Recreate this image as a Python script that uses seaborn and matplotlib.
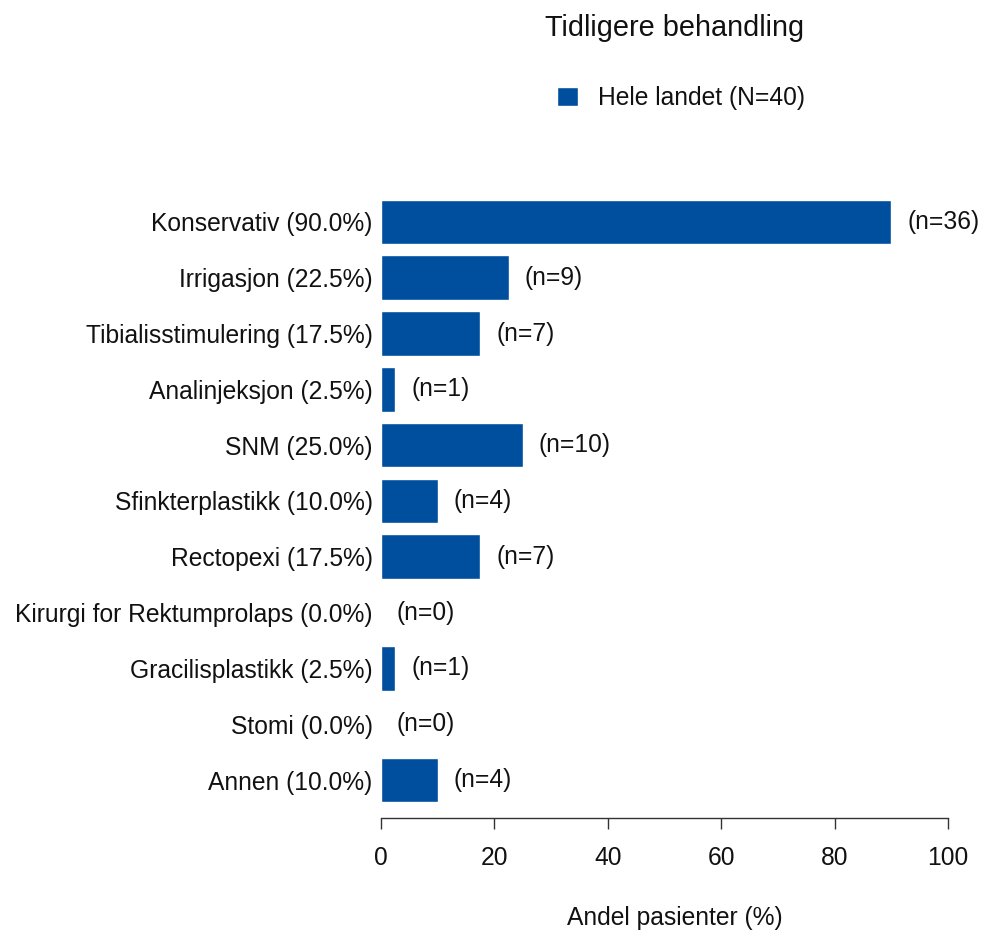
import matplotlib
matplotlib.use("Agg")
import matplotlib.pyplot as plt
import pandas as pd
import seaborn as sns

categories = [
    "Konservativ",
    "Irrigasjon",
    "Tibialisstimulering",
    "Analinjeksjon",
    "SNM",
    "Sfinkterplastikk",
    "Rectopexi",
    "Kirurgi for Rektumprolaps",
    "Gracilisplastikk",
    "Stomi",
    "Annen",
]
counts = [36, 9, 7, 1, 10, 4, 7, 0, 1, 0, 4]
shares = [90.0, 22.5, 17.5, 2.5, 25.0, 10.0, 17.5, 0.0, 2.5, 0.0, 10.0]
total_n = 40
x_ticks = [0, 20, 40, 60, 80, 100]

BAR_COLOR = "#004F9E"
FONT = ["Liberation Sans", "DejaVu Sans"]
FS = 17.7


def main() -> None:
    sns.set_style("white")
    plt.rcParams["font.family"] = FONT
    plt.rcParams["text.color"] = "#111111"
    plt.rcParams["xtick.color"] = "#111111"
    plt.rcParams["ytick.color"] = "#111111"

    df = pd.DataFrame(
        {
            "label": [f"{c} ({s:.1f}%)" for c, s in zip(categories, shares)],
            "share": shares,
            "n": counts,
        }
    )

    fig = plt.figure(figsize=(9.82, 9.33), dpi=100)
    ax = fig.add_axes([0.388, 0.1233, 0.5774, 0.6747])

    sns.barplot(
        data=df,
        x="share",
        y="label",
        orient="h",
        color=BAR_COLOR,
        saturation=1,
        width=0.8,
        label=f"Hele landet (N={total_n})",
        ax=ax,
    )

    for i, row in df.iterrows():
        ax.annotate(
            f"(n={row['n']})",
            xy=(row["share"], i),
            xytext=(11.5, 0),
            textcoords="offset points",
            va="center",
            ha="left",
            fontsize=FS,
        )

    ax.set_xlim(0, 100)
    ax.set_ylim(10.68, -0.6)
    ax.set_xticks(x_ticks)
    ax.set_xticklabels([str(t) for t in x_ticks], fontsize=FS)
    ax.tick_params(axis="y", labelsize=FS, length=0, pad=6)
    ax.tick_params(axis="x", length=8, width=1, color="#333333", pad=12, bottom=True)
    ax.set_xlabel("")
    ax.set_ylabel("")

    for side in ["top", "right", "left"]:
        ax.spines[side].set_visible(False)
    ax.spines["bottom"].set_color("#333333")
    ax.spines["bottom"].set_linewidth(1)

    handles, labels = ax.get_legend_handles_labels()
    if ax.get_legend() is not None:
        ax.get_legend().remove()
    fig.legend(
        handles[:1],
        labels[:1],
        loc="center",
        bbox_to_anchor=(681 / 982, 1 - 98 / 933),
        frameon=False,
        fontsize=FS,
        handlelength=0.85,
        handleheight=0.85,
        handletextpad=0.85,
    )

    fig.text(675 / 982, 1 - 28 / 933, "Tidligere behandling", ha="center", va="center", fontsize=20.8)
    fig.text(675 / 982, 1 - 918 / 933, "Andel pasienter (%)", ha="center", va="center", fontsize=FS)

    fig.savefig("out.png", dpi=100)
    plt.close(fig)


if __name__ == "__main__":
    main()
